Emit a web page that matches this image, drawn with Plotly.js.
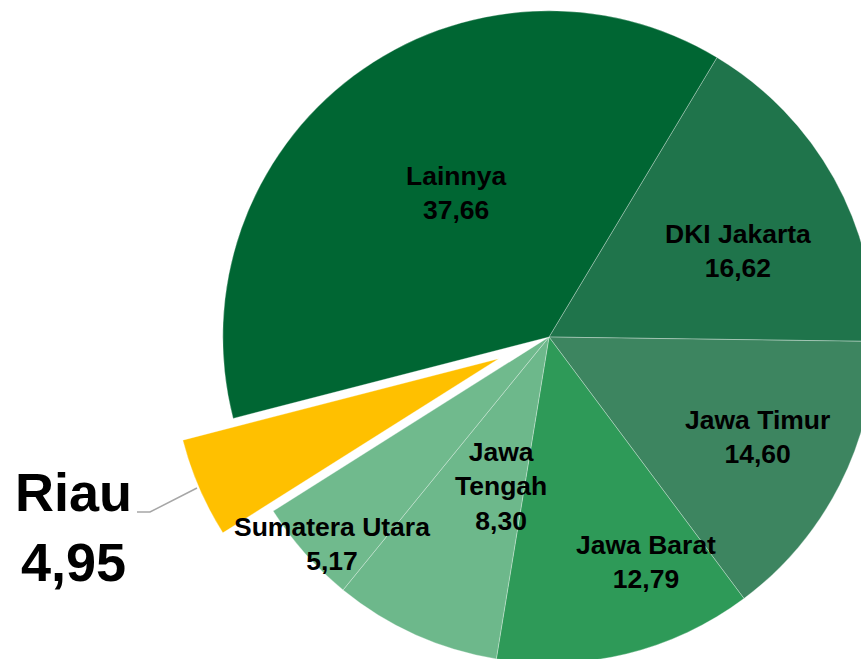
<!DOCTYPE html>
<html>
<head>
<meta charset="utf-8">
<script src="https://cdn.plot.ly/plotly-3.0.1.min.js"></script>
<style>
  html, body { margin: 0; padding: 0; width: 861px; height: 659px; overflow: hidden; background: #ffffff; }
  #chart { position: absolute; left: 0px; top: -44px; width: 1100px; height: 762px; }
</style>
</head>
<body>
<div id="chart"></div>
<script>
// ---- data ----
const labels = ['DKI Jakarta', 'Jawa Timur', 'Jawa Barat', 'Jawa Tengah', 'Sumatera Utara', 'Riau', 'Lainnya'];
const displayLabels = ['DKI Jakarta', 'Jawa Timur', 'Jawa Barat', 'Jawa<br>Tengah', 'Sumatera Utara', 'Riau', 'Lainnya'];
const values = [16.62, 14.60, 12.79, 8.30, 5.17, 4.95, 37.66];

// ---- styles ----
const colors = ['#1f744b', '#3d8560', '#2e9a58', '#6db88b', '#70ba8d', '#ffc000', '#006633'];
const pulls = [0, 0, 0, 0, 0, 0.168, 0];

// ---- geometry of the page / plot ----
const W = 1100, H = 762, TOP = -44;
const pieCx = 549;           // page px
const pieHalf = H / 2;       // half of square pie box
function px(x) { return x / W; }
function py(y) { return 1 - (y - TOP) / H; }

// label block centres (page px)
const labelPos = {
  'DKI Jakarta':    [738, 251],
  'Jawa Timur':     [757, 437],
  'Jawa Barat':     [646, 562],
  'Jawa Tengah':    [501, 486],
  'Sumatera Utara': [332, 544],
  'Lainnya':        [456, 193]
};

function fmt(v) { return v.toFixed(2).replace('.', ','); }

const fam = '"Liberation Sans Narrow", "Arial Narrow", "Liberation Sans", Arial, sans-serif';
const labelFont = { family: fam, size: 26.5, color: '#000000', weight: 700 };
const bigFont = { family: fam, size: 54, color: '#000000', weight: 700 };

const annotations = [];
labels.forEach((lab, i) => {
  if (lab === 'Riau') {
    annotations.push({
      xref: 'paper', yref: 'paper', x: px(73), y: py(527),
      xanchor: 'center', yanchor: 'middle', showarrow: false,
      text: displayLabels[i] + '<br>' + fmt(values[i]), font: bigFont, align: 'center'
    });
  } else {
    const p = labelPos[lab];
    annotations.push({
      xref: 'paper', yref: 'paper', x: px(p[0]), y: py(p[1]),
      xanchor: 'center', yanchor: 'middle', showarrow: false,
      text: displayLabels[i] + '<br>' + fmt(values[i]), font: labelFont, align: 'center'
    });
  }
});

const trace = {
  type: 'pie',
  labels: labels,
  values: values,
  sort: false,
  direction: 'clockwise',
  rotation: 31,
  pull: pulls,
  textinfo: 'none',
  hoverinfo: 'label+value',
  marker: { colors: colors, line: { color: 'rgba(255,255,255,0.3)', width: 1 } },
  domain: { x: [(pieCx - pieHalf) / W, (pieCx + pieHalf) / W], y: [0, 1] }
};

const layout = {
  width: W, height: H,
  margin: { l: 0, r: 0, t: 0, b: 0 },
  paper_bgcolor: '#ffffff',
  showlegend: false,
  separators: ',.',
  annotations: annotations,
  shapes: [{
    type: 'path', xref: 'paper', yref: 'paper',
    path: 'M ' + px(137) + ',' + py(512) + ' L ' + px(150) + ',' + py(512) + ' L ' + px(197) + ',' + py(488),
    line: { color: '#a6a6a6', width: 1.5 }
  }]
};

Plotly.newPlot('chart', [trace], layout, { displayModeBar: false, staticPlot: true });
</script>
</body>
</html>
